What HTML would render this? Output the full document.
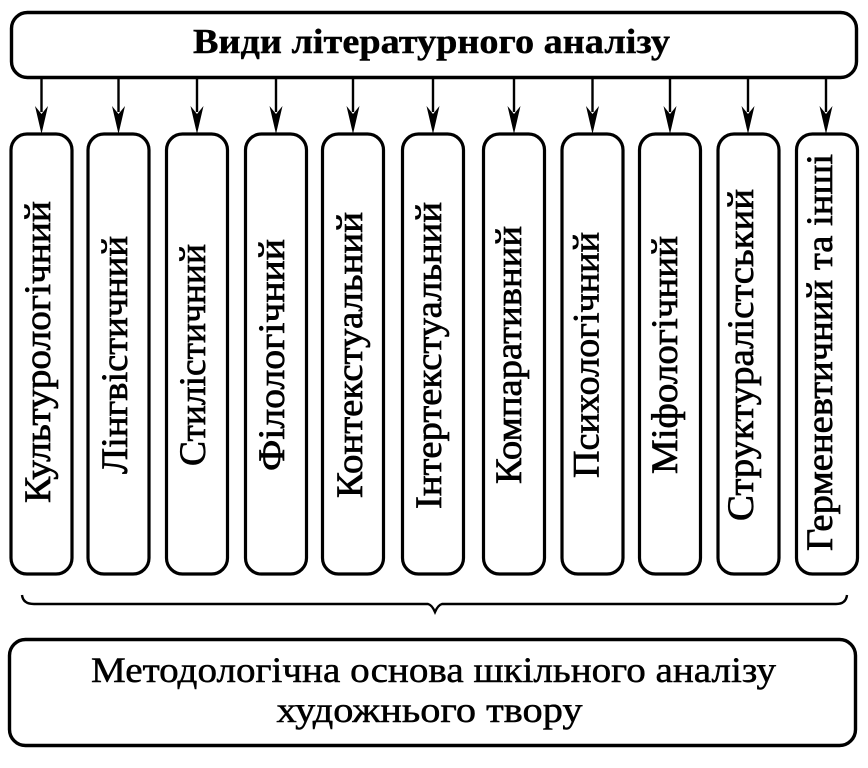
<!DOCTYPE html>
<html>
<head>
<meta charset="utf-8">
<style>
  html,body{margin:0;padding:0;background:#fff;}
  svg{display:block;}
  text{font-family:"Liberation Serif","DejaVu Serif",serif;fill:#000;}
</style>
</head>
<body>
<svg width="868" height="768" viewBox="0 0 868 768" xmlns="http://www.w3.org/2000/svg">
  <!-- Top box -->
  <rect x="11.5" y="12.5" width="845" height="65" rx="16" ry="16" fill="#fff" stroke="#000" stroke-width="3.4"/>
  <text x="431.5" y="53" font-size="35" font-weight="bold" text-anchor="middle" textLength="477" lengthAdjust="spacingAndGlyphs" stroke="#000" stroke-width="0.4">Види літературного аналізу</text>

  <!-- Arrows -->
  <g stroke="#000" stroke-width="2.4">
    <line x1="41.5" y1="78" x2="41.5" y2="112"/>
    <line x1="118.5" y1="78" x2="118.5" y2="112"/>
    <line x1="197" y1="78" x2="197" y2="112"/>
    <line x1="276" y1="78" x2="276" y2="112"/>
    <line x1="353" y1="78" x2="353" y2="112"/>
    <line x1="433" y1="78" x2="433" y2="112"/>
    <line x1="514" y1="78" x2="514" y2="112"/>
    <line x1="592.5" y1="78" x2="592.5" y2="112"/>
    <line x1="670" y1="78" x2="670" y2="112"/>
    <line x1="748" y1="78" x2="748" y2="112"/>
    <line x1="826" y1="78" x2="826" y2="112"/>
  </g>
  <g fill="#000">
    <polygon points="35,106 41.5,114 48,106 41.5,134"/>
    <polygon points="112,106 118.5,114 125,106 118.5,134"/>
    <polygon points="190.5,106 197,114 203.5,106 197,134"/>
    <polygon points="269.5,106 276,114 282.5,106 276,134"/>
    <polygon points="346.5,106 353,114 359.5,106 353,134"/>
    <polygon points="426.5,106 433,114 439.5,106 433,134"/>
    <polygon points="507.5,106 514,114 520.5,106 514,134"/>
    <polygon points="586,106 592.5,114 599,106 592.5,134"/>
    <polygon points="663.5,106 670,114 676.5,106 670,134"/>
    <polygon points="741.5,106 748,114 754.5,106 748,134"/>
    <polygon points="819.5,106 826,114 832.5,106 826,134"/>
  </g>

  <!-- Column boxes -->
  <g fill="#fff" stroke="#000" stroke-width="3.2">
    <rect x="11" y="134" width="61" height="440" rx="16" ry="16"/>
    <rect x="88" y="134" width="61" height="440" rx="16" ry="16"/>
    <rect x="166.5" y="134" width="61" height="440" rx="16" ry="16"/>
    <rect x="245.5" y="134" width="61" height="440" rx="16" ry="16"/>
    <rect x="322.5" y="134" width="61" height="440" rx="16" ry="16"/>
    <rect x="402.5" y="134" width="61" height="440" rx="16" ry="16"/>
    <rect x="483.5" y="134" width="61" height="440" rx="16" ry="16"/>
    <rect x="562" y="134" width="61" height="440" rx="16" ry="16"/>
    <rect x="639.5" y="134" width="61" height="440" rx="16" ry="16"/>
    <rect x="718" y="134" width="61" height="440" rx="16" ry="16"/>
    <rect x="796.5" y="134" width="61" height="440" rx="16" ry="16"/>
  </g>

  <!-- Column labels (rotated) -->
  <g font-size="37" text-anchor="middle" stroke="#000" stroke-width="0.7">
    <text transform="translate(50,352) rotate(-90)" textLength="302" lengthAdjust="spacingAndGlyphs">Культурологічний</text>
    <text transform="translate(127,355) rotate(-90)" textLength="238" lengthAdjust="spacingAndGlyphs">Лінгвістичний</text>
    <text transform="translate(205,355) rotate(-90)" textLength="222" lengthAdjust="spacingAndGlyphs">Стилістичний</text>
    <text transform="translate(284,355) rotate(-90)" textLength="232" lengthAdjust="spacingAndGlyphs">Філологічний</text>
    <text transform="translate(362,355) rotate(-90)" textLength="286" lengthAdjust="spacingAndGlyphs">Контекстуальний</text>
    <text transform="translate(441,355.5) rotate(-90)" textLength="307" lengthAdjust="spacingAndGlyphs">Інтертекстуальний</text>
    <text transform="translate(521,355) rotate(-90)" textLength="258" lengthAdjust="spacingAndGlyphs">Компаративний</text>
    <text transform="translate(598.5,355) rotate(-90)" textLength="246" lengthAdjust="spacingAndGlyphs">Психологічний</text>
    <text transform="translate(677,355) rotate(-90)" textLength="238" lengthAdjust="spacingAndGlyphs">Міфологічний</text>
    <text transform="translate(753,355) rotate(-90)" textLength="332" lengthAdjust="spacingAndGlyphs">Структуралістський</text>
    <text transform="translate(832,352.5) rotate(-90)" textLength="397" lengthAdjust="spacingAndGlyphs">Герменевтичний та інші</text>
  </g>

  <!-- Brace -->
  <path d="M22,595 Q23,604 34,604 L428,604 Q432,605 435,612 Q438,605 442,604 L836,604 Q846,604 847,595" fill="none" stroke="#000" stroke-width="2.4"/>

  <!-- Bottom box -->
  <rect x="9.5" y="639.5" width="846" height="106" rx="16" ry="16" fill="#fff" stroke="#000" stroke-width="3.4"/>
  <g stroke="#000" stroke-width="0.5">
    <text x="433.5" y="682" font-size="36" text-anchor="middle" textLength="685" lengthAdjust="spacingAndGlyphs">Методологічна основа шкільного аналізу</text>
    <text x="429.5" y="722" font-size="36" text-anchor="middle" textLength="306" lengthAdjust="spacingAndGlyphs">художнього твору</text>
  </g>
</svg>
</body>
</html>
